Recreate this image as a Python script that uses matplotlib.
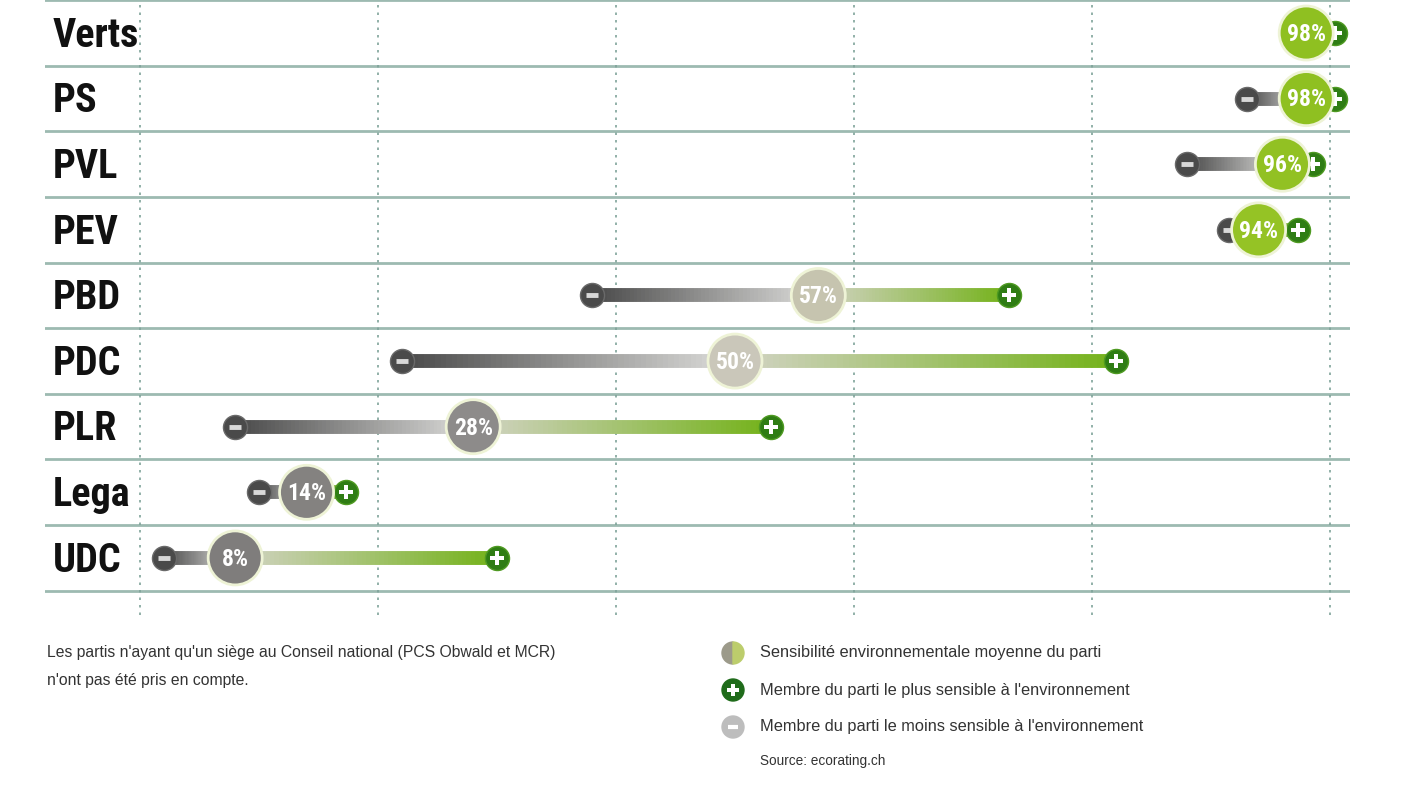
import numpy as np
import matplotlib.pyplot as plt
from matplotlib import font_manager as fm
from matplotlib.collections import LineCollection
from matplotlib.colors import LinearSegmentedColormap, to_rgb
from matplotlib.patches import Wedge, Circle

# données
partis = ["Verts", "PS", "PVL", "PEV", "PBD", "PDC", "PLR", "Lega", "UDC"]
moyenne = [98, 98, 96, 94, 57, 50, 28, 14, 8]
membre_min = [97, 93, 88, 91.5, 38, 22, 8, 10, 2]
membre_max = [100.4, 100.4, 98.6, 97.3, 73, 82, 53, 17.3, 30]
graduations = [0, 20, 40, 60, 80, 100]

note = ["Les partis n'ayant qu'un siège au Conseil national (PCS Obwald et MCR)",
        "n'ont pas été pris en compte."]
legende = ["Sensibilité environnementale moyenne du parti",
           "Membre du parti le plus sensible à l'environnement",
           "Membre du parti le moins sensible à l'environnement"]
source = "Source: ecorating.ch"

dispo = {f.name for f in fm.fontManager.ttflist}
etroite = next((n for n in ["Roboto Condensed", "Liberation Sans Narrow",
                            "Open Sans Condensed", "DejaVu Sans"] if n in dispo), "DejaVu Sans")
normale = "Liberation Sans" if "Liberation Sans" in dispo else "DejaVu Sans"

W, H = 1408, 792
fig = plt.figure(figsize=(W / 100, H / 100), dpi=100)
fig.patch.set_facecolor("white")

ax = fig.add_axes([45 / W, (H - 615) / H, (1350 - 45) / W, 615 / H])
ax.set_xlim(-7.98, 101.68)
ax.set_ylim(8.87, -0.503)
ax.axis("off")

for i in range(len(partis) + 1):
    ax.axhline(i - 0.5, color="#9dbab1", lw=2, zorder=1)
for g in graduations:
    ax.axvline(g, color="#7fa39a", lw=1.2, ls=(0, (1.5, 3)), zorder=1)

couleurs_moy = LinearSegmentedColormap.from_list("moy", [
    (0.0, "#7a7877"), (0.3, "#8f8d8b"), (0.5, "#cac7ba"), (0.6, "#c4c3aa"),
    (0.9, "#9cc52a"), (1.0, "#8cbf1f")])


def degrade(x0, x1, c0, c1, n=60):
    xs = np.linspace(x0, x1, n + 1)
    t = np.linspace(0, 1, n)[:, None]
    cols = (1 - t) * np.array(to_rgb(c0)) + t * np.array(to_rgb(c1))
    return xs, cols


for i, p in enumerate(partis):
    lo, m, hi = membre_min[i], moyenne[i], membre_max[i]
    for a, b, c0, c1 in [(lo, m, "#4a4a4a", "#dcdcda"), (m, hi, "#d2d3c4", "#74b21a")]:
        xs, cols = degrade(a, b, c0, c1)
        segs = [[(xs[k], i), (xs[k + 1], i)] for k in range(len(xs) - 1)]
        ax.add_collection(LineCollection(segs, colors=cols, linewidths=10,
                                         capstyle="butt", zorder=2))
    ax.text(-7.3, i + 0.21, p, fontsize=29, fontweight="bold", family=etroite,
            color="#111111", va="baseline", ha="left")

ax.scatter(membre_min, range(len(partis)), s=300, color="#4a4a4a",
           edgecolor="#6a6a6a", lw=1, zorder=3)
ax.scatter(membre_min, range(len(partis)), s=70, marker="_", color="#d8d8d8",
           lw=3.5, zorder=3.1)
ax.scatter(membre_max, range(len(partis)), s=300, color="#2f7d14",
           edgecolor="#4f9a22", lw=1, zorder=3)
ax.scatter(membre_max, range(len(partis)), s=110, marker="P", color="white",
           lw=0, zorder=3.1)

ax.scatter(moyenne, range(len(partis)), s=1512,
           color=[couleurs_moy(v / 100) for v in moyenne],
           edgecolor="#eef3d6", lw=2, zorder=4)
for i, v in enumerate(moyenne):
    ax.text(v, i + 0.02, f"{v}%", fontsize=17, fontweight="bold", family=etroite,
            color="white", ha="center", va="center", zorder=5)

# légende et notes, en pixels de la figure
ov = fig.add_axes([0, 0, 1, 1])
ov.set_xlim(0, W)
ov.set_ylim(H, 0)
ov.axis("off")
ov.patch.set_alpha(0)

for y, t in zip([653, 680], note):
    ov.text(47, y, t, fontsize=11.3, family=normale, color="#333333",
            va="center", ha="left")

ly = [653, 690, 727]
ov.add_patch(Wedge((733, ly[0]), 11, 90, 270, color="#9c9a8a"))
ov.add_patch(Wedge((733, ly[0]), 11, 270, 90, color="#bccd6c"))
ov.add_patch(Circle((733, ly[1]), 11, color="#1f6b1a"))
ov.scatter([733], [ly[1]], s=70, marker="P", color="white", lw=0)
ov.add_patch(Circle((733, ly[2]), 11, color="#bdbdbd"))
ov.scatter([733], [ly[2]], s=50, marker="_", color="white", lw=3)
for y, t in zip(ly, legende):
    ov.text(760, y, t, fontsize=11.8, family=normale, color="#333333",
            va="center", ha="left")
ov.text(760, 761, source, fontsize=9.8, family=normale, color="#333333",
        va="center", ha="left")

fig.savefig("out.png", dpi=100, facecolor="white")
